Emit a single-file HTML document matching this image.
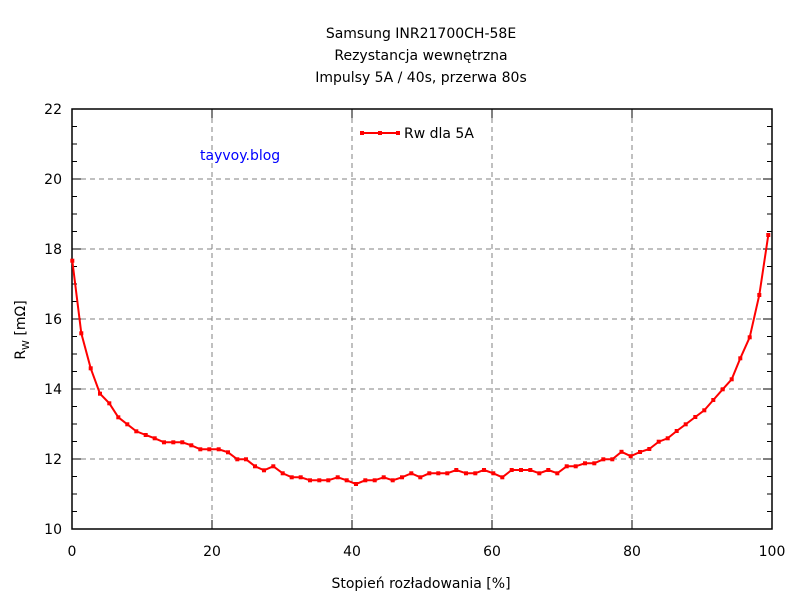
<!DOCTYPE html><html><head><meta charset="utf-8"><style>body{margin:0;background:#fff}svg{display:block}text{font-family:"DejaVu Sans","Liberation Sans",sans-serif;font-size:14px;fill:#000}</style></head><body>
<svg width="800" height="600" xmlns="http://www.w3.org/2000/svg">
<defs><marker id="m" markerUnits="userSpaceOnUse" markerWidth="6" markerHeight="6" refX="3" refY="3"><rect x="1" y="1" width="4" height="4" fill="#f00"/></marker></defs>
<g stroke="#808080" stroke-dasharray="5,4" stroke-width="1">
<line x1="72" y1="179" x2="772" y2="179"/><line x1="72" y1="249" x2="772" y2="249"/><line x1="72" y1="319" x2="772" y2="319"/><line x1="72" y1="389" x2="772" y2="389"/><line x1="72" y1="459" x2="772" y2="459"/>
<line x1="212" y1="109" x2="212" y2="529"/><line x1="352" y1="109" x2="352" y2="529"/><line x1="492" y1="109" x2="492" y2="529"/><line x1="632" y1="109" x2="632" y2="529"/>
</g>
<g stroke="#000" stroke-width="1">
<path d="M72 126.5h5M72 144h5M72 161.5h5M72 179h9M72 196.5h5M72 214h5M72 231.5h5M72 249h9M72 266.5h5M72 284h5M72 301.5h5M72 319h9M72 336.5h5M72 354h5M72 371.5h5M72 389h9M72 406.5h5M72 424h5M72 441.5h5M72 459h9M72 476.5h5M72 494h5M72 511.5h5"/>
<path d="M772 126.5h-5M772 144h-5M772 161.5h-5M772 179h-9M772 196.5h-5M772 214h-5M772 231.5h-5M772 249h-9M772 266.5h-5M772 284h-5M772 301.5h-5M772 319h-9M772 336.5h-5M772 354h-5M772 371.5h-5M772 389h-9M772 406.5h-5M772 424h-5M772 441.5h-5M772 459h-9M772 476.5h-5M772 494h-5M772 511.5h-5"/>
<path d="M212 529v-9M352 529v-9M492 529v-9M632 529v-9M212 109v9M352 109v9M492 109v9M632 109v9"/>
</g>
<rect x="72" y="109" width="700" height="420" fill="none" stroke="#000" stroke-width="1.5"/>
<polyline fill="none" stroke="#f00" stroke-width="2" marker-start="url(#m)" marker-mid="url(#m)" marker-end="url(#m)" points="72.3,260.7 81.3,333.3 90.7,368.3 100,393.7 109.3,403.3 118.3,417.3 127.3,424.3 136.3,431.3 145.7,435 154.7,438.3 164,442.3 173.3,442.3 182.3,442.3 191.3,445.3 200.3,449.3 209.3,449.3 218.7,449.3 228,452.3 237.3,459.3 246,459.3 255,466.3 264,470.3 273.3,466.3 282.7,473.3 291.7,477.3 300.7,477.3 310,480.3 319.3,480.3 328.3,480.3 337.7,477.3 346.7,480.3 356,484 365.3,480.3 374.7,480.3 383.7,477.3 392.7,480.3 402,477.3 411.3,473.3 420.3,477.3 429.3,473.3 438.3,473.3 447.3,473.3 456.3,470 466,473.3 475.3,473.3 484,470 493.3,473.3 502.3,477.3 511.7,470 521,470 530.3,470 539.3,473.3 548.3,470 557.3,473.3 566.7,466.3 575.7,466.3 585,463.3 594.3,463.3 603.3,459.3 612.3,459.3 621.5,451.8 630.7,456.2 640,452 649.3,449 658.7,441.7 667.7,438.3 676.7,431 685.7,424.3 695.3,417 704.3,410.3 713.3,400 722.7,389.3 731.7,379.3 740.3,358.3 749.7,337.3 759.3,295 768.3,235"/>
<polyline points="362,133 380,133 398,133" fill="none" stroke="#f00" stroke-width="2" marker-start="url(#m)" marker-mid="url(#m)" marker-end="url(#m)"/>
<text x="404" y="138">Rw dla 5A</text>
<text x="200" y="160" style="fill:#00f">tayvoy.blog</text>
<g text-anchor="end"><text x="62" y="114">22</text><text x="62" y="184">20</text><text x="62" y="254">18</text><text x="62" y="324">16</text><text x="62" y="394">14</text><text x="62" y="464">12</text><text x="62" y="534">10</text></g>
<g text-anchor="middle"><text x="72" y="556">0</text><text x="212" y="556">20</text><text x="352" y="556">40</text><text x="492" y="556">60</text><text x="632" y="556">80</text><text x="772" y="556">100</text>
<text x="421" y="38">Samsung INR21700CH-58E</text><text x="421" y="60">Rezystancja wewnętrzna</text><text x="421" y="82">Impulsy 5A / 40s, przerwa 80s</text>
<text x="421" y="588">Stopień rozładowania [%]</text></g>
<text transform="translate(25,330) rotate(-90)" text-anchor="middle">R<tspan font-size="10" dy="4">W</tspan><tspan dy="-4"> [mΩ]</tspan></text>
</svg></body></html>
